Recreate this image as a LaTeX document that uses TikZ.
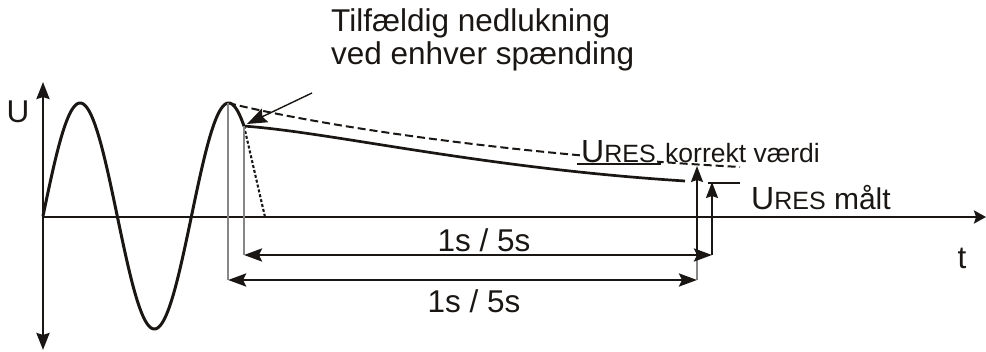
\documentclass[tikz,border=0pt]{standalone}
\usepackage{fontspec}
\setmainfont{Liberation Sans}
\usetikzlibrary{arrows.meta}
\definecolor{extgray}{RGB}{135,135,135}
\definecolor{ink}{RGB}{25,22,20}
\begin{document}
\begin{tikzpicture}[x=1pt,y=-1pt,
  axisline/.style={draw=ink,line width=2.7pt},
  axtip/.tip={Stealth[length=17pt,width=13pt,inset=2pt]},
  dimtip/.tip={Stealth[length=18pt,width=13pt,inset=3pt]},
  uptip/.tip={Stealth[length=16pt,width=12pt,inset=2pt]},
  wave/.style={draw=ink,line width=3pt},
  decay/.style={draw=ink,line width=2.7pt},
  dashcurve/.style={draw=ink,line width=2pt,dash pattern=on 8pt off 4pt},
  dotline/.style={draw=ink,line width=2.1pt,dash pattern=on 3pt off 2pt},
  extline/.style={draw=extgray,line width=1.6pt},
  dimline/.style={draw=ink,line width=2.7pt,dimtip-dimtip},
  upline/.style={draw=ink,line width=1.6pt,-uptip},
  pointer/.style={draw=ink,line width=1.4pt,-{Stealth[length=20pt,width=15pt,inset=3pt]}},
  bigtext/.style={inner sep=0pt,text=ink,font=\fontsize{31.5}{33}\selectfont},
]
\useasboundingbox (0,0) rectangle (986,352);

% coordinates
\coordinate (O) at (43,217);
\coordinate (Utop) at (43,82);
\coordinate (Ubot) at (43,350);
\coordinate (tend) at (986,217);
\coordinate (pk) at (228.1,103);
\coordinate (br) at (244,126.1);
\coordinate (dashend) at (740,167);
\coordinate (solidend) at (685,181);
\coordinate (solid2a) at (708,183);
\coordinate (solid2b) at (740,183);
\coordinate (dotend) at (265,217);
\coordinate (dim2L) at (228.1,280);
\coordinate (dim2R) at (697,280);
\coordinate (dim1L) at (244,255);
\coordinate (dim1R) at (712,255);
\coordinate (dim2Rup) at (697,255);
\coordinate (tipK) at (697,166);
\coordinate (tipM) at (712,182);
\coordinate (pstart) at (312,93);
\coordinate (ptip) at (247,124);

% axes
\draw[axisline,axtip-axtip] (Ubot) -- (Utop);
\draw[axisline,-{Stealth[length=12pt,width=13pt,inset=2pt]}] (O) -- (tend);

% dashed and dotted curves
\draw[dashcurve] (pk) .. controls (330,128) and (520,155) .. (dashend);
\draw[dotline] (br) -- (dotend);

% sine wave
\draw[wave,line cap=round] plot[domain=43:244,samples=200,smooth] (\x,{216-113*sin(2.424242*(\x-43))});

% solid decay
\draw[decay] (br) .. controls (330,132) and (480,168) .. (solidend);
\draw[decay] (solid2a) -- (solid2b);

% extension lines
\draw[extline] (pk) -- (dim2L);
\draw[extline] (br) -- (dim1L);
\draw[extline] (dim2R) -- (dim2Rup);

% dimension lines
\draw[dimline] (dim1L) -- (dim1R);
\draw[dimline] (dim2L) -- (dim2R);

% up arrows
\draw[upline] (dim2Rup) -- (tipK);
\draw[upline] (dim1R) -- (tipM);

% pointer
\draw[pointer] (pstart) -- (ptip);

% labels
\node[bigtext,anchor=base west] (l1) at (331,32) {Tilfældig nedlukning};
\node[bigtext,anchor=base west] (l2) at (331,65) {ved enhver spænding};
\node[bigtext,anchor=base] (lU) at (18,123) {U};
\node[bigtext,anchor=base] (lt) at (962,269) {t};
\node[bigtext,anchor=base] (d1) at (484,252) {1s / 5s};
\node[bigtext,anchor=base] (d2) at (474,313) {1s / 5s};

\node[anchor=base west,inner xsep=1pt,inner ysep=0pt,fill=white,text=ink] (uresK) at (580,162.5)
  {{\fontsize{32}{32}\selectfont U}{\fontsize{25}{25}\selectfont RES}};
\node[anchor=base west,inner sep=0pt,text=ink,font=\fontsize{26.5}{26.5}\selectfont] (korrekt) at (665,162.5) {korrekt værdi};
\coordinate (ul1) at (577,164);
\coordinate (ul2) at (661,164);
\draw[draw=ink,line width=1.7pt] (ul1) -- (ul2);

\node[anchor=base west,inner sep=0pt,text=ink] (uresM) at (751,210)
  {{\fontsize{32}{32}\selectfont U}{\fontsize{25}{25}\selectfont RES}\fontsize{30}{30}\selectfont\ målt};
\end{tikzpicture}
\end{document}
